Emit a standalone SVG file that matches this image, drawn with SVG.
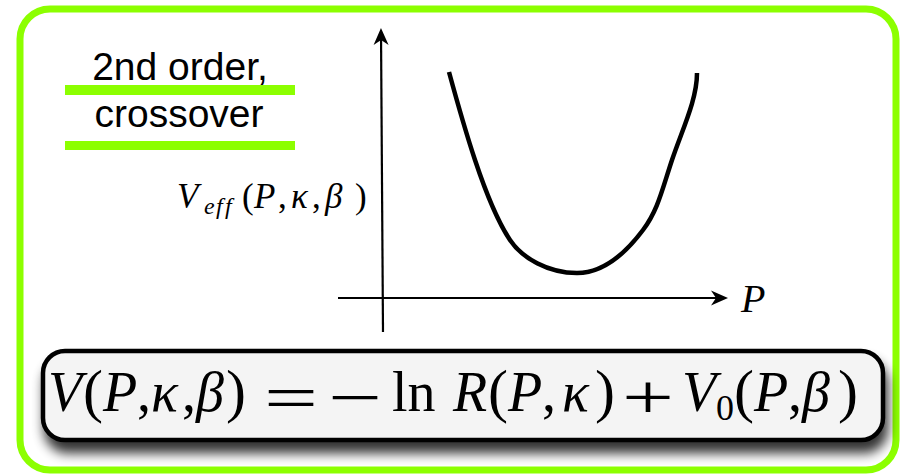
<svg xmlns="http://www.w3.org/2000/svg" width="900" height="474" viewBox="0 0 900 474">
<style>
.frame{fill:#ffffff;stroke:#8cff00;stroke-width:7}
.bar{fill:#8cff00}
.title{font-family:"Liberation Sans",Arial,sans-serif;font-size:39px;fill:#000;text-anchor:middle}
.axis{stroke:#000;stroke-width:2.2;fill:none}
.curve{stroke:#000;stroke-width:4.5;fill:none}
.m{font-family:"Liberation Serif","Times New Roman",serif;fill:#000}
.i{font-style:italic}
.box{fill:#f4f4f4;stroke:#000;stroke-width:4.5}
</style>
<defs>
<marker id="arrow" markerUnits="userSpaceOnUse" markerWidth="20" markerHeight="16" viewBox="0 -8 20 16" refX="16" refY="0" orient="auto">
<path d="M20,0 L3,-7.5 L8,0 L3,7.5 Z" fill="#000"/>
</marker>
<filter id="shadow" x="-10%" y="-30%" width="120%" height="170%">
<feGaussianBlur in="SourceAlpha" stdDeviation="6"/>
<feOffset dx="3" dy="11" result="b"/>
<feComponentTransfer><feFuncA type="linear" slope="0.8"/></feComponentTransfer>
<feMerge><feMergeNode/><feMergeNode in="SourceGraphic"/></feMerge>
</filter>
</defs>
<rect class="frame" x="20" y="9" width="876" height="461" rx="30" ry="30"/>
<g id="label">
<rect class="bar" x="65" y="85" width="230" height="10"/>
<rect class="bar" x="65" y="141" width="230" height="9"/>
<text class="title" x="180" y="80">2nd order,</text>
<text class="title" x="179" y="127">crossover</text>
</g>
<g id="connectors">
<line class="axis" x1="383" y1="332" x2="381" y2="32" marker-end="url(#arrow)"/>
<line class="axis" x1="338" y1="298" x2="724" y2="298" marker-end="url(#arrow)"/>
</g>
<g id="plot">
<path class="curve" d="M449,72 C458,105 466,133 475,160 S498,222 510,240 S548,273 577,273 S628,250 643,230 S662,190 672,160 S697,100 697,73"/>
<text class="m" y="208" font-size="35"><tspan class="i" x="177">V</tspan><tspan class="i" font-size="24" x="204 216 225" y="214">eff</tspan><tspan x="242" y="208">(</tspan><tspan class="i" x="254">P</tspan><tspan x="278">,</tspan><tspan class="i" x="291">κ</tspan><tspan x="312">,</tspan><tspan class="i" x="325">β</tspan><tspan x="355">)</tspan></text>
<text class="m i" x="741" y="312" font-size="40">P</text>
</g>
<g id="formula">
<rect class="box" x="43" y="351" width="840" height="89" rx="22" ry="22" filter="url(#shadow)"/>
<text class="m" y="411" font-size="56"><tspan class="i" x="48">V</tspan><tspan font-size="60" x="83">(</tspan><tspan class="i" x="103">P</tspan><tspan x="137">,</tspan><tspan class="i" x="151">κ</tspan><tspan x="182">,</tspan><tspan class="i" x="196">β</tspan><tspan font-size="60" x="226">)</tspan><tspan font-size="64" x="264" y="419" textLength="54" lengthAdjust="spacingAndGlyphs">=</tspan><tspan font-size="64" x="328" y="419" textLength="54" lengthAdjust="spacingAndGlyphs">−</tspan><tspan x="392" y="411">ln</tspan><tspan class="i" x="453">R</tspan><tspan font-size="60" x="488">(</tspan><tspan class="i" x="508">P</tspan><tspan x="542">,</tspan><tspan class="i" x="562">κ</tspan><tspan font-size="60" x="595">)</tspan><tspan font-size="64" x="622" y="419" textLength="52" lengthAdjust="spacingAndGlyphs">+</tspan><tspan class="i" x="682" y="411">V</tspan><tspan font-size="36" x="716" y="420">0</tspan><tspan font-size="60" x="734" y="411">(</tspan><tspan class="i" x="754">P</tspan><tspan x="788">,</tspan><tspan class="i" x="802">β</tspan><tspan font-size="60" x="838">)</tspan></text>
</g>
</svg>
